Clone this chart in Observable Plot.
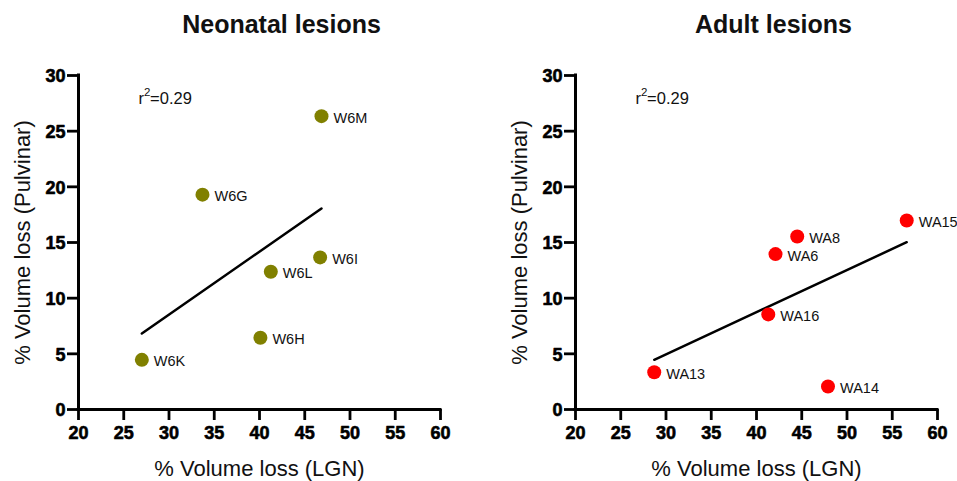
<!DOCTYPE html>
<html>
<head>
<meta charset="utf-8">
<script src="https://cdn.jsdelivr.net/npm/d3@7"></script>
<script src="https://cdn.jsdelivr.net/npm/@observablehq/plot@0.6"></script>
<style>
  html, body { margin: 0; padding: 0; background: #fff; }
  #wrap { position: relative; width: 957px; height: 481px; font-family: "Liberation Sans", Arial, Helvetica, sans-serif; }
  #wrap svg { position: absolute; top: 0; }
</style>
</head>
<body>
<div id="wrap"></div>
<script>
// ---- data ----
const neonatalIds = ["W6M", "W6G", "W6I", "W6L", "W6H", "W6K"];
const neonatalLGN = [46.85, 33.7, 46.7, 41.25, 40.1, 27.0];
const neonatalPulvinar = [26.35, 19.3, 13.66, 12.37, 6.44, 4.46];

const adultIds = ["WA15", "WA8", "WA6", "WA16", "WA13", "WA14"];
const adultLGN = [56.6, 44.5, 42.1, 41.3, 28.7, 47.9];
const adultPulvinar = [16.98, 15.54, 13.96, 8.54, 3.35, 2.07];

const xTicks = [20, 25, 30, 35, 40, 45, 50, 55, 60];
const yTicks = [0, 5, 10, 15, 20, 25, 30];
const panelTitles = ["Neonatal lesions", "Adult lesions"];
const r2Values = ["=0.29", "=0.29"];
const xLabel = "% Volume loss (LGN)";
const yLabel = "% Volume loss (Pulvinar)";

const font = '"Liberation Sans", Arial, Helvetica, sans-serif';
const ink = "#111";

function panel({ids, xs, ys, color, title, r2, width, marginLeft, marginRight, titleDx}) {
  const data = ids.map((id, i) => ({id, x: xs[i], y: ys[i]}));
  const frameW = width - marginLeft - marginRight;
  const frameH = 481 - 75 - 72;
  return Plot.plot({
    width, height: 481,
    marginLeft, marginRight, marginTop: 75, marginBottom: 72,
    style: {fontFamily: font, color: ink, background: "transparent"},
    x: {domain: [20, 60], axis: null},
    y: {domain: [0, 30], axis: null},
    marks: [
      // tick marks
      Plot.ruleX(xTicks, {x: d => d, insetTop: frameH, insetBottom: -11, stroke: "#000", strokeWidth: 2.8}),
      Plot.ruleY(yTicks, {y: d => d, insetLeft: -11, insetRight: frameW, stroke: "#000", strokeWidth: 2.8}),
      // tick labels
      Plot.text(xTicks, {x: d => d, text: d => String(d), frameAnchor: "bottom", lineAnchor: "middle", dy: 24, fontSize: 18, fontWeight: "bold", fill: "#000", stroke: "#000", strokeWidth: 0.6}),
      Plot.text(yTicks, {y: d => d, text: d => String(d), frameAnchor: "left", textAnchor: "end", lineAnchor: "middle", dx: -13, dy: 1, fontSize: 18, fontWeight: "bold", fill: "#000", stroke: "#000", strokeWidth: 0.6}),
      // axis lines
      Plot.ruleX([20], {stroke: "#000", strokeWidth: 3, strokeLinecap: "square"}),
      Plot.ruleY([0], {stroke: "#000", strokeWidth: 3, strokeLinecap: "square"}),
      // regression + points
      Plot.linearRegressionY(data, {x: "x", y: "y", ci: 0, stroke: "#000", strokeWidth: 2.5}),
      Plot.dot(data, {x: "x", y: "y", r: 7, fill: color, stroke: "none"}),
      Plot.text(data, {x: "x", y: "y", text: "id", dx: 12, dy: 2, textAnchor: "start", lineAnchor: "middle", fontSize: 14.5, fill: ink}),
      // r^2 annotation: "r", superscript "2", "=0.29"
      Plot.text(["r"], {frameAnchor: "top-left", textAnchor: "start", lineAnchor: "middle", dx: 60, dy: 23, fontSize: 16.5, fill: ink}),
      Plot.text(["2"], {frameAnchor: "top-left", textAnchor: "start", lineAnchor: "middle", dx: 65.4, dy: 17, fontSize: 11.5, fill: ink}),
      Plot.text([r2], {frameAnchor: "top-left", textAnchor: "start", lineAnchor: "middle", dx: 71.6, dy: 23, fontSize: 16.5, fill: ink}),
      // titles and axis labels
      Plot.text([title], {frameAnchor: "top", textAnchor: "middle", lineAnchor: "middle", dx: titleDx, dy: -51, fontSize: 25, fontWeight: "bold", fill: ink}),
      Plot.text([xLabel], {frameAnchor: "bottom", textAnchor: "middle", lineAnchor: "middle", dy: 59, fontSize: 22, fill: ink}),
      Plot.text([yLabel], {frameAnchor: "left", textAnchor: "middle", lineAnchor: "middle", dx: -56, rotate: -90, fontSize: 22, fill: ink})
    ]
  });
}

const wrap = document.getElementById("wrap");
const left = panel({ids: neonatalIds, xs: neonatalLGN, ys: neonatalPulvinar, color: "#808000",
  title: panelTitles[0], r2: r2Values[0], width: 478, marginLeft: 78, marginRight: 38, titleDx: 22});
left.style.left = "0px";
const right = panel({ids: adultIds, xs: adultLGN, ys: adultPulvinar, color: "#ff0000",
  title: panelTitles[1], r2: r2Values[1], width: 479, marginLeft: 97, marginRight: 20, titleDx: 17});
right.style.left = "478px";
wrap.appendChild(left);
wrap.appendChild(right);
</script>
</body>
</html>
